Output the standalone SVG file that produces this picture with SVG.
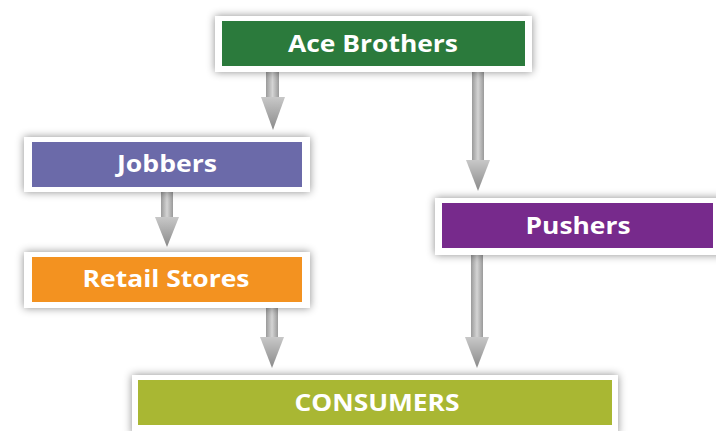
<svg xmlns="http://www.w3.org/2000/svg" width="716" height="431" viewBox="0 0 716 431">
<defs>
<filter id="sh" x="-10%" y="-30%" width="120%" height="160%">
<feDropShadow dx="0" dy="0" stdDeviation="4" flood-color="#000" flood-opacity="0.45"/>
</filter>
<linearGradient id="ag" x1="0" y1="0" x2="1" y2="0">
<stop offset="0" stop-color="#9a9a9a"/>
<stop offset="0.5" stop-color="#d4d4d4"/>
<stop offset="1" stop-color="#9a9a9a"/>
</linearGradient>
<linearGradient id="hg" x1="0" y1="0" x2="0" y2="1">
<stop offset="0" stop-color="#c8c8c8"/>
<stop offset="1" stop-color="#8a8a8a"/>
</linearGradient>
<style>
.frame{fill:#fff;filter:url(#sh)}
.lbl{font-family:"Open Sans","Liberation Sans",sans-serif;font-weight:bold;fill:#fff;text-anchor:middle;font-size:24px}
.shaft{fill:url(#ag)}
.head{fill:url(#hg)}
</style>
</defs>
<rect width="716" height="431" fill="#fff"/>
<g id="connectors">
<rect class="shaft" x="266" y="70" width="13" height="28"/>
<polygon class="head" points="261,97 285,97 273,130"/>
<rect class="shaft" x="472" y="70" width="12" height="92"/>
<polygon class="head" points="466,160 490,160 478,191"/>
<rect class="shaft" x="161" y="190" width="12" height="28"/>
<polygon class="head" points="155,217 179,217 167,247"/>
<rect class="shaft" x="266" y="306" width="12" height="32"/>
<polygon class="head" points="260,337 284,337 272,368"/>
<rect class="shaft" x="471" y="253" width="12" height="85"/>
<polygon class="head" points="465,337 489,337 477,368"/>
</g>
<g id="ace">
<rect class="frame" x="215" y="16" width="317" height="56"/>
<rect x="222" y="21" width="303" height="45" fill="#2b7a3c"/>
<text class="lbl" x="373" y="52" textLength="170" lengthAdjust="spacingAndGlyphs">Ace Brothers</text>
</g>
<g id="jobbers">
<rect class="frame" x="24" y="137" width="286" height="55"/>
<rect x="32" y="142" width="270" height="45" fill="#6b6aa9"/>
<text class="lbl" x="167" y="172" textLength="100" lengthAdjust="spacingAndGlyphs">Jobbers</text>
</g>
<g id="retail">
<rect class="frame" x="24" y="252" width="286" height="56"/>
<rect x="32" y="257" width="270" height="45" fill="#f39220"/>
<text class="lbl" x="166" y="287" textLength="167" lengthAdjust="spacingAndGlyphs">Retail Stores</text>
</g>
<g id="pushers">
<rect class="frame" x="435" y="198" width="290" height="57"/>
<rect x="442" y="203" width="271" height="45" fill="#772a8c"/>
<text class="lbl" x="578" y="234" textLength="105" lengthAdjust="spacingAndGlyphs">Pushers</text>
</g>
<g id="consumers">
<rect class="frame" x="132" y="375" width="486" height="60"/>
<rect x="138" y="380" width="474" height="45" fill="#a9b733"/>
<text class="lbl" x="377" y="411" textLength="165" lengthAdjust="spacingAndGlyphs">CONSUMERS</text>
</g>
</svg>
